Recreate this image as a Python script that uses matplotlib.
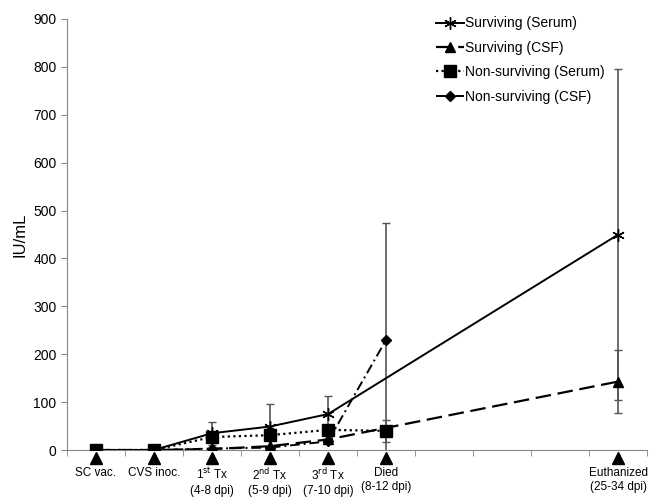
import numpy as np
import matplotlib.pyplot as plt

plt.rcParams['font.family'] = ['Liberation Sans', 'DejaVu Sans']

categories = ["SC vac.", "CVS inoc.", "1$^{\\rm st}$ Tx\n(4-8 dpi)", "2$^{\\rm nd}$ Tx\n(5-9 dpi)",
              "3$^{\\rm rd}$ Tx\n(7-10 dpi)", "Died\n(8-12 dpi)", "", "", "", "Euthanized\n(25-34 dpi)"]
nan = np.nan
surv_serum = [0, 0, 35, 49, 75, nan, nan, nan, nan, 450]
surv_serum_err = [0, 0, 24, 47, 37, nan, nan, nan, nan, 345]
surv_csf = [0, 0, 2, 8, 22, nan, nan, nan, nan, 143]
surv_csf_err = [0, 0, 0, 0, 0, nan, nan, nan, nan, 65]
nons_serum = [0, 0, 27, 31, 42, 40, nan, nan, nan, nan]
nons_serum_err = [0, 0, 0, 0, 0, 23, nan, nan, nan, nan]
nons_csf = [0, 0, 3, 5, 18, 230, nan, nan, nan, nan]
nons_csf_err = [0, 0, 0, 0, 0, 245, nan, nan, nan, nan]
event_idx = [0, 1, 2, 3, 4, 5, 9]

fig, ax = plt.subplots(figsize=(6.68, 5), dpi=100)
fig.subplots_adjust(left=0.100, right=0.969, bottom=0.10, top=0.962)

x = np.arange(len(categories))
series = [
    ("Surviving (Serum)", surv_serum, surv_serum_err, dict(ls='-', marker=(6, 2, 0), ms=9, lw=1.4)),
    ("Surviving (CSF)", surv_csf, surv_csf_err, dict(ls=(0, (7, 3)), marker='^', ms=7, lw=1.6)),
    ("Non-surviving (Serum)", nons_serum, nons_serum_err, dict(ls=(0, (1, 1.5)), marker='s', ms=9, lw=1.6)),
    ("Non-surviving (CSF)", nons_csf, nons_csf_err, dict(ls=(0, (5, 2, 1, 2)), marker='D', ms=5, lw=1.4)),
]
for name, y, err, st in series:
    y = np.array(y, dtype=float)
    err = np.array(err, dtype=float)
    m = ~np.isnan(y)
    ax.errorbar(x[m], y[m], yerr=err[m], fmt='none', ecolor='#555555', elinewidth=1.2, capsize=3, zorder=2)
    ax.plot(x[m], y[m], color='black', mec='black', mfc='black', label=name, zorder=3, **st)

# event arrows under axis
tr = ax.get_xaxis_transform()
ax.plot(event_idx, [-0.018] * len(event_idx), ls='none', marker='^', ms=8, color='black',
        transform=tr, clip_on=False)

ax.set_xlim(-0.5, 9.5)
ax.set_ylim(0, 900)
ax.set_yticks(range(0, 901, 100))
ax.set_xticks(x)
ax.set_xticklabels(categories, fontsize=8.5, linespacing=1.3)
ax.set_xticks(np.arange(-0.5, 9.6, 1), minor=True)
ax.tick_params(axis='x', which='major', length=0, pad=12)
ax.tick_params(axis='x', which='minor', length=4, color='#888888')
ax.tick_params(axis='y', length=4, color='#888888', labelsize=10)
for s in ['top', 'right']:
    ax.spines[s].set_visible(False)
for s in ['left', 'bottom']:
    ax.spines[s].set_color('#888888')
ax.set_ylabel("IU/mL", fontsize=12)

ax.legend(loc='upper left', bbox_to_anchor=(0.615, 1.035), frameon=False, fontsize=10,
          handlelength=2.0, handletextpad=0.1, labelspacing=0.75)

plt.savefig('out.png')
